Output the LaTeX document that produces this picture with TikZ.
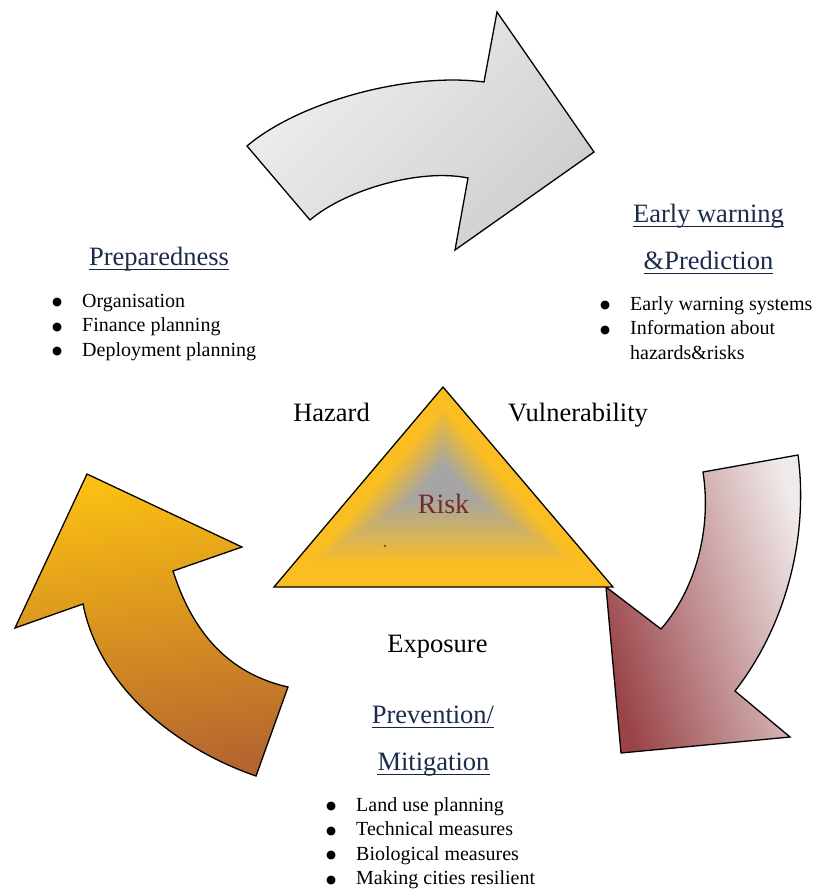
\documentclass[tikz,border=0pt]{standalone}
\usepackage{fontspec}
\setmainfont{Liberation Serif}
\newfontfamily\symfont{DejaVu Sans}
\usepackage{tikz}
\usetikzlibrary{calc}

\definecolor{navy}{HTML}{1B2B4B}
\definecolor{riskred}{HTML}{722A2C}
\definecolor{amber}{HTML}{FBBE22}
\definecolor{ash}{HTML}{A5A5A5}
\definecolor{rosedark}{HTML}{9A4448}
\definecolor{roselight}{HTML}{F0EAEA}
\definecolor{goldtop}{HTML}{FBC012}
\definecolor{goldbot}{HTML}{B4652F}

% bullet in front of each list line
\newcommand{\bul}{\makebox[30pt][l]{\raisebox{1.3pt}{\symfont\fontsize{11.5}{12}\selectfont ●}}}

\begin{document}
\begin{tikzpicture}[x=1pt,y=-1pt,
    outline/.style={draw=black,line width=1.3pt,line join=miter},
    heading/.style={font=\fontsize{26.5}{30}\selectfont,text=navy,anchor=base,inner sep=0pt},
    uline/.style={draw=navy!85!black,line width=1.7pt},
    keyword/.style={font=\fontsize{26.5}{30}\selectfont,anchor=base,inner sep=0pt},
    bullets/.style={font=\fontsize{20}{24.5}\selectfont,anchor=base west,inner sep=0pt}]
    \useasboundingbox (0,0) rectangle (815,889);

    % top arrow
    \shade[outline,top color=gray!12,bottom color=gray!38,shading angle=45]
      (247,146) .. controls (300,101) and (410,72) .. (484,82)
      -- (497,12) -- (594,152) -- (455,250) -- (468,178)
      .. controls (420,168) and (345,190) .. (310,220) -- cycle;

    % right arrow
    \shade[outline,top color=roselight,bottom color=rosedark,shading angle=-72]
      (703,472) -- (798,455) .. controls (808,530) and (790,620) .. (735,691)
      -- (790,737) -- (621,753) -- (606,587) -- (661,629)
      .. controls (695,590) and (712,530) .. (703,472) -- cycle;

    % left arrow
    \shade[outline,top color=goldtop,bottom color=goldbot,shading angle=8]
      (87,474) -- (242,547) -- (173,571)
      .. controls (195,640) and (235,675) .. (288,687)
      -- (256,776) .. controls (180,750) and (100,690) .. (83,604)
      -- (15,628) -- cycle;

    % risk triangle, shaded from the rim to the core
    \coordinate (peak) at (443,387);
    \coordinate (baseL) at (274,587);
    \coordinate (baseR) at (613,587);
    \coordinate (core) at (443,480);
    \foreach \i in {0,...,50}{
      \pgfmathsetmacro\s{1-\i/50}
      \pgfmathsetmacro\p{min(100,max(0,100*(\s-0.18)/0.62))}
      \fill[amber!\p!ash] ($(core)!\s!(peak)$) -- ($(core)!\s!(baseL)$)
        -- ($(core)!\s!(baseR)$) -- cycle;
    }
    \draw[outline] (peak) -- (baseL) -- (baseR) -- cycle;
    \fill[riskred] (385,546) circle (1.2);

    \node[keyword] (hazard) at (331.5,421) {Hazard};
    \node[keyword] (vuln) at (578,421) {Vulnerability};
    \node[keyword,text=riskred,font=\fontsize{28}{30}\selectfont] (risk) at (443.5,513) {Risk};
    \node[keyword] (expo) at (437.5,652) {Exposure};

    % phase titles
    \node[heading] (prep) at (159,265) {Preparedness};
    \node[heading] (early) at (708.5,222) {Early warning};
    \node[heading] (predict) at (708.5,269) {\&Prediction};
    \node[heading] (prev) at (433,723) {Prevention/};
    \node[heading] (mitig) at (433.5,770) {Mitigation};
    \foreach \h in {prep,early,predict,prev,mitig}
      \draw[uline] ([yshift=-4.5pt]\h.base west) -- ([yshift=-4.5pt]\h.base east);

    % phase contents
    \node[bullets] (preplist) at (52,307) {\begin{tabular}[t]{@{}l@{}l@{}}
      \bul & Organisation\\
      \bul & Finance planning\\
      \bul & Deployment planning
    \end{tabular}};
    \node[bullets] (earlylist) at (600,310) {\begin{tabular}[t]{@{}l@{}l@{}}
      \bul & Early warning systems\\
      \bul & Information about\\
           & hazards\&risks
    \end{tabular}};
    \node[bullets] (prevlist) at (326,811) {\begin{tabular}[t]{@{}l@{}l@{}}
      \bul & Land use planning\\
      \bul & Technical measures\\
      \bul & Biological measures\\
      \bul & Making cities resilient
    \end{tabular}};
\end{tikzpicture}
\end{document}
